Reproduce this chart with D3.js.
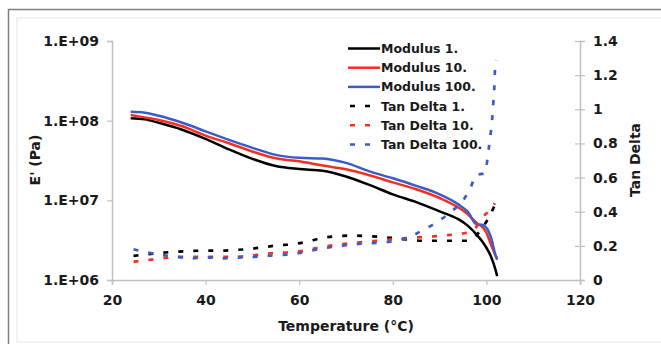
<!DOCTYPE html>
<html>
    <head>
        <script src="https://cdn.jsdelivr.net/npm/d3@7"></script>
        <style>
            body { margin: 0; background: #fff; }
            text { font-family: "DejaVu Sans", Verdana, sans-serif; font-weight: bold; fill: #1a1a1a; }
        </style>
    </head>
    <body>
        <div class="chart"></div>
    </body>
    <script>
        // modulus curves (Pa), shared temperatures
        const modTemp = [24, 27, 30, 35, 40, 45, 50, 55, 60, 65, 70, 75, 80, 85, 90, 94, 96, 98, 99, 100, 101, 102, 102.3];
        const mod1   = [1.075e8, 1.04e8, 9.4e7, 7.7e7, 5.9e7, 4.36e7, 3.32e7, 2.69e7, 2.47e7, 2.35e7, 1.99e7, 1.56e7, 1.19e7, 9.5e6, 7.27e6, 5.8e6, 4.82e6, 3.66e6, 3.1e6, 2.54e6, 1.96e6, 1.31e6, 1.12e6];
        const mod10  = [1.18e8, 1.10e8, 1.02e8, 8.5e7, 6.5e7, 5.2e7, 4.1e7, 3.37e7, 3.09e7, 2.73e7, 2.45e7, 2.06e7, 1.68e7, 1.38e7, 1.07e7, 8.13e6, 6.72e6, 5.15e6, 4.7e6, 3.92e6, 2.77e6, 2.0e6, 1.85e6];
        const mod100 = [1.29e8, 1.26e8, 1.15e8, 9.4e7, 7.35e7, 5.74e7, 4.56e7, 3.72e7, 3.42e7, 3.35e7, 2.95e7, 2.31e7, 1.89e7, 1.52e7, 1.19e7, 8.9e6, 7.2e6, 4.94e6, 4.94e6, 4.53e6, 3.39e6, 2.0e6, 1.8e6];

        // tan delta curves
        const tan1Temp = [24.6, 27.8, 30.9, 33.8, 37.0, 40.2, 43.1, 46.3, 49.5, 52.3, 55.5, 58.6, 61.6, 65.2, 70.9, 76.6, 80.8, 86.5, 92.2, 95.8, 97.9, 99.3, 100.8, 101.8];
        const tan1     = [0.141, 0.152, 0.160, 0.166, 0.170, 0.172, 0.172, 0.176, 0.182, 0.192, 0.203, 0.209, 0.224, 0.248, 0.260, 0.254, 0.244, 0.230, 0.230, 0.230, 0.264, 0.312, 0.381, 0.439];
        const tan10Temp = [24.6, 27.8, 30.9, 33.8, 37.0, 40.2, 43.1, 46.3, 49.5, 52.3, 55.5, 58.6, 61.6, 65.2, 70.9, 76.6, 82.2, 87.9, 92.2, 95.8, 97.9, 99.3, 100.8, 101.8];
        const tan10     = [0.107, 0.117, 0.127, 0.136, 0.136, 0.136, 0.136, 0.136, 0.142, 0.152, 0.160, 0.162, 0.176, 0.195, 0.215, 0.230, 0.244, 0.254, 0.264, 0.277, 0.312, 0.371, 0.410, 0.449];
        const tan100Temp = [24.6, 27.8, 30.9, 33.8, 37.0, 40.2, 43.1, 46.3, 49.5, 52.3, 55.5, 58.6, 65.2, 72.3, 79.4, 83.7, 86.5, 90.1, 92.9, 95.1, 96.7, 97.8, 99.6, 100.2, 100.6, 101.0, 101.3, 101.5, 101.7, 101.8, 102.1];
        const tan100     = [0.180, 0.160, 0.146, 0.136, 0.127, 0.133, 0.127, 0.131, 0.133, 0.141, 0.145, 0.152, 0.186, 0.211, 0.224, 0.254, 0.293, 0.351, 0.410, 0.469, 0.547, 0.615, 0.625, 0.703, 0.791, 0.879, 0.967, 1.045, 1.132, 1.213, 1.289];

        // axes
        const xTicks = [20, 40, 60, 80, 100, 120];
        const leftTicks = [1e6, 1e7, 1e8, 1e9];
        const leftLabels = ["1.E+06", "1.E+07", "1.E+08", "1.E+09"];
        const rightTicks = [0, 0.2, 0.4, 0.6, 0.8, 1, 1.2, 1.4];

        const seriesNames = ["Modulus 1.", "Modulus 10.", "Modulus 100.", "Tan Delta 1.", "Tan Delta 10.", "Tan Delta 100."];
        const colors = ["#000000", "#f5301e", "#3b5cc8"];

        const width = 661, height = 344;
        const margin = {top: 41, right: 81, bottom: 64, left: 112};

        const svg = d3.select(".chart").append("svg")
            .attr("width", width).attr("height", height);

        // frame
        svg.append("rect").attr("x", 17).attr("y", 18).attr("width", 660).attr("height", 324)
            .attr("fill", "none").attr("stroke", "#e6e6e6").attr("stroke-width", 1);
        svg.append("path").attr("d", "M8.5,350V9.5H670")
            .attr("fill", "none").attr("stroke", "#808080").attr("stroke-width", 1.5);

        const x = d3.scaleLinear().domain([20, 120]).range([margin.left, width - margin.right]);
        const yL = d3.scaleLog().domain([1e6, 1e9]).range([height - margin.bottom, margin.top]);
        const yR = d3.scaleLinear().domain([0, 1.4]).range([height - margin.bottom, margin.top]);

        const gx = svg.append("g").attr("transform", `translate(0,${height - margin.bottom})`)
            .call(d3.axisBottom(x).tickValues(xTicks).tickSizeOuter(0).tickSize(5).tickPadding(10));
        const gl = svg.append("g").attr("transform", `translate(${margin.left},0)`)
            .call(d3.axisLeft(yL).tickValues(leftTicks).tickFormat((d, i) => leftLabels[i]).tickSizeOuter(0).tickSize(5).tickPadding(8));
        const gr = svg.append("g").attr("transform", `translate(${width - margin.right},0)`)
            .call(d3.axisRight(yR).tickValues(rightTicks).tickFormat(d3.format("~g")).tickSizeOuter(0).tickSize(5).tickPadding(8));
        gr.selectAll(".tick line").attr("x1", -5);

        [gx, gl, gr].forEach(g => {
            g.select(".domain").attr("stroke", "#c0c0c0").attr("stroke-width", 1.5);
            g.selectAll(".tick line").attr("stroke", "#c0c0c0").attr("stroke-width", 1.2);
            g.selectAll("text").style("font-size", "14px").attr("fill", "#1a1a1a");
        });

        // axis titles
        svg.append("text").attr("x", (margin.left + width - margin.right) / 2).attr("y", 331)
            .attr("text-anchor", "middle").style("font-size", "14px").text("Temperature (°C)");
        svg.append("text").attr("transform", "translate(40,160) rotate(-90)")
            .attr("text-anchor", "middle").style("font-size", "14px").text("E' (Pa)");
        svg.append("text").attr("transform", "translate(640,160) rotate(-90)")
            .attr("text-anchor", "middle").style("font-size", "14px").text("Tan Delta");

        const lineL = d3.line().x(d => x(d[0])).y(d => yL(d[1])).curve(d3.curveMonotoneX);
        const lineR = d3.line().x(d => x(d[0])).y(d => yR(d[1])).curve(d3.curveMonotoneX);

        [mod1, mod10, mod100].forEach((vals, i) => {
            svg.append("path").datum(d3.zip(modTemp, vals))
                .attr("d", lineL).attr("fill", "none")
                .attr("stroke", colors[i]).attr("stroke-width", 2.5);
        });
        [[tan1Temp, tan1], [tan10Temp, tan10], [tan100Temp, tan100]].forEach((s, i) => {
            svg.append("path").datum(d3.zip(s[0], s[1]))
                .attr("d", lineR).attr("fill", "none")
                .attr("stroke", colors[i]).attr("stroke-width", 2.7)
                .attr("stroke-dasharray", "5,10");
        });

        // legend
        const legend = svg.append("g");
        seriesNames.forEach((name, i) => {
            const yy = 48.5 + i * 19.2;
            const dashed = i >= 3;
            legend.append("line")
                .attr("x1", dashed ? 350 : 348).attr("x2", 380).attr("y1", yy).attr("y2", yy)
                .attr("stroke", colors[i % 3]).attr("stroke-width", 2.5)
                .attr("stroke-dasharray", dashed ? "5,10" : null);
            legend.append("text").attr("x", 381).attr("y", yy + 1)
                .attr("dominant-baseline", "middle").style("font-size", "12.5px").text(name);
        });
    </script>
</html>
